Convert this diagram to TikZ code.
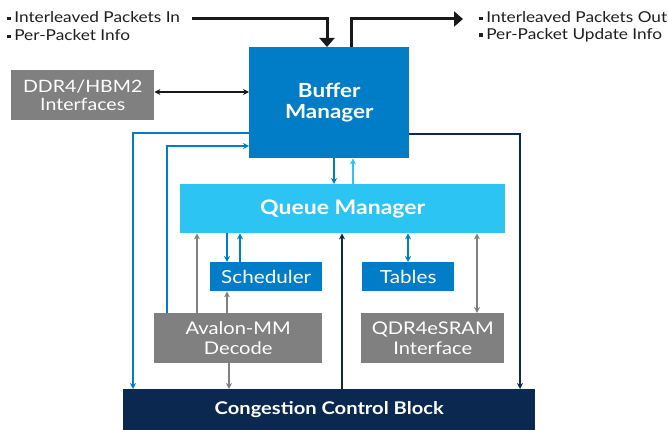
\documentclass[tikz,border=0pt]{standalone}
\usepackage{fontspec}
\setmainfont[FakeStretch=1.15]{Lato}
\usetikzlibrary{arrows.meta}
\definecolor{bmblue}{RGB}{0,125,198}
\definecolor{qmblue}{RGB}{44,196,242}
\definecolor{grayb}{RGB}{128,128,128}
\definecolor{navy}{RGB}{11,40,80}
\definecolor{txtc}{RGB}{30,30,30}
\newcommand{\sqb}{\raisebox{0.3ex}{\rule{3.6pt}{3.6pt}}\hspace{3.5pt}}
\begin{document}
\begin{tikzpicture}[x=1pt,y=-1pt,
  box/.style={draw=none, inner sep=0pt, anchor=north west, align=center, text=white},
  lbl/.style={inner sep=0pt, anchor=west, text=txtc, font=\fontsize{15}{17}\selectfont},
  thin/.style={line width=1.4pt, -{Stealth[length=6pt,width=6pt]}},
  thinb/.style={line width=1.4pt, {Stealth[length=6pt,width=6pt]}-{Stealth[length=6pt,width=6pt]}},
  fat/.style={line width=3pt, black!90, -{Triangle[length=9pt,width=15pt]}}
]
\useasboundingbox (0,0) rectangle (668,430);
% boxes
\node[box, fill=bmblue, minimum width=160pt, minimum height=111pt, font=\bfseries\fontsize{19.5}{21}\selectfont] (bm) at (249,47) {Buffer\\Manager};
\node[box, fill=qmblue, minimum width=325pt, minimum height=49pt, font=\bfseries\fontsize{20}{22}\selectfont] (qm) at (180,184) {Queue Manager};
\node[box, fill=bmblue, minimum width=112pt, minimum height=29pt, font=\fontsize{18}{20}\selectfont] (sch) at (210,262) {Scheduler};
\node[box, fill=bmblue, minimum width=92pt, minimum height=29pt, font=\fontsize{18}{20}\selectfont] (tab) at (362,262) {Tables};
\node[box, fill=grayb, minimum width=168pt, minimum height=50pt, font=\fontsize{17.5}{19.5}\selectfont] (av) at (154,313) {Avalon-MM\\Decode};
\node[box, fill=grayb, minimum width=143pt, minimum height=50pt, font=\fontsize{17.5}{19.5}\selectfont] (qdr) at (361,313) {QDR4eSRAM\\Interface};
\node[box, fill=navy, minimum width=412pt, minimum height=41pt, font=\bfseries\fontsize{17.5}{20}\selectfont] (ccb) at (123,389) {Congestion Control Block};
\node[box, fill=grayb, minimum width=143pt, minimum height=50pt, font=\fontsize{17}{18.5}\selectfont] (ddr) at (11,70) {DDR4/HBM2\\Interfaces};
% labels
\node[lbl] (in1) at (7,17) {\sqb Interleaved Packets In};
\node[lbl] (in2) at (7,35) {\sqb Per-Packet Info};
\node[lbl] (out1) at (479,17) {\sqb Interleaved Packets Out};
\node[lbl] (out2) at (479,35) {\sqb Per-Packet Update Info};
% coordinates
\coordinate (inS) at (192,19);
\coordinate (xin) at (327,0);
\coordinate (xout) at (351,0);
\coordinate (outE) at (463,19);
\coordinate (x1) at (133,133);
\coordinate (x2) at (167,146);
\coordinate (x3) at (520,134);
\coordinate (xbd) at (334,0);
\coordinate (xbu) at (353,0);
\coordinate (xg1) at (197,0);
\coordinate (xsd) at (227,0);
\coordinate (xsu) at (240,0);
\coordinate (xnv) at (342,0);
\coordinate (xtb) at (408,0);
\coordinate (xqd) at (477,0);
\coordinate (xad) at (229,0);
\coordinate (yddr) at (0,92);
% top arrows
\draw[fat] (inS) -| (xin |- bm.north);
\draw[fat] (xout |- bm.north) |- (outE);
% DDR
\draw[line width=1.6pt, black!90, {Stealth[length=6pt,width=6pt]}-{Stealth[length=6pt,width=6pt]}] (ddr.east |- yddr) -- (bm.west |- yddr);
% left loops
\draw[thin, bmblue] (bm.west |- x1) -- (x1) -- (x1 |- ccb.north);
\draw[thin, bmblue] (x2 |- av.north) -- (x2) -- (bm.west |- x2);
\draw[thin, navy] (bm.east |- x3) -- (x3) -- (x3 |- ccb.north);
% bm <-> qm
\draw[thin, bmblue] (xbd |- bm.south) -- (xbd |- qm.north);
\draw[thin, qmblue] (xbu |- qm.north) -- (xbu |- bm.south);
% below qm
\draw[thin, grayb] (xg1 |- av.north) -- (xg1 |- qm.south);
\draw[thin, bmblue] (xsd |- qm.south) -- (xsd |- sch.north);
\draw[thin, bmblue] (xsu |- sch.north) -- (xsu |- qm.south);
\draw[thin, grayb] (xsd |- av.north) -- (xsd |- sch.south);
\draw[thin, navy] (xnv |- ccb.north) -- (xnv |- qm.south);
\draw[thinb, bmblue] (xtb |- qm.south) -- (xtb |- tab.north);
\draw[thinb, grayb] (xqd |- qm.south) -- (xqd |- qdr.north);
\draw[thin, grayb] (xad |- av.south) -- (xad |- ccb.north);
\end{tikzpicture}
\end{document}
